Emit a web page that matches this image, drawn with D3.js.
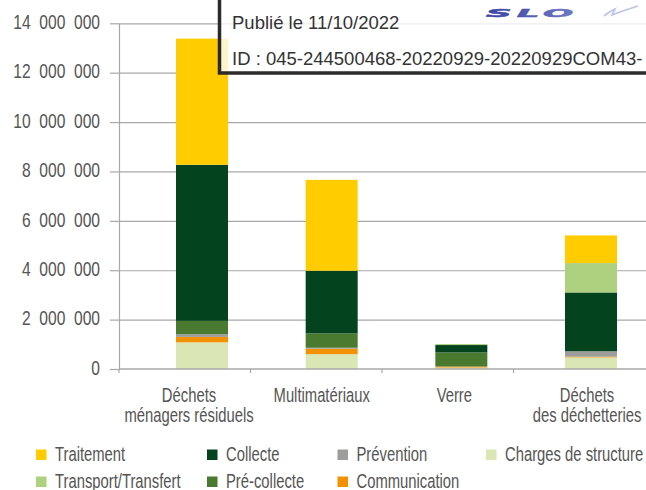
<!DOCTYPE html>
<html><head><meta charset="utf-8">
<script src="https://cdn.jsdelivr.net/npm/d3@7"></script>
<style>
html,body{margin:0;padding:0;background:#fff;}
svg{display:block;}
.lbl{font-family:'Liberation Sans',Arial,sans-serif;fill:#555;}
</style></head>
<body>
<svg id="c" width="646" height="490"></svg>
<script>
const categories = [["Déchets","ménagers résiduels"],["Multimatériaux"],["Verre"],["Déchets","des déchetteries"]];
const catKeys = ["DMR","Multi","Verre","Dechetteries"];
const seriesNames = ["Charges de structure","Communication","Prévention","Pré-collecte","Collecte","Transport/Transfert","Traitement"];
const chargesStructure = [1080000, 600000, 60000, 470000];
const communication   = [220000, 220000, 40000, 30000];
const prevention      = [110000, 40000, 0, 220000];
const preCollecte     = [540000, 580000, 570000, 0];
const collecte        = [6320000, 2540000, 300000, 2380000];
const transport       = [0, 0, 40000, 1190000];
const traitement      = [5110000, 3680000, 0, 1120000];
const yTicks = [0,2000000,4000000,6000000,8000000,10000000,12000000,14000000];
const legendOrder = ["Traitement","Collecte","Prévention","Charges de structure","Transport/Transfert","Pré-collecte","Communication"];
const colors = {"Traitement":"#FFCC00","Collecte":"#03441F","Prévention":"#9D9D9C","Charges de structure":"#DAE6B3",
  "Transport/Transfert":"#AED17F","Pré-collecte":"#4A7A2F","Communication":"#F39200"};

const seriesValues = [chargesStructure,communication,prevention,preCollecte,collecte,transport,traitement];
const rows = catKeys.map((k,i)=>{const o={key:k}; seriesNames.forEach((s,j)=>o[s]=seriesValues[j][i]); return o;});
const stack = d3.stack().keys(seriesNames)(rows);

const svg = d3.select("#c");
const y = d3.scaleLinear().domain([0,14000000]).range([369,23.3]);
const xBand = d3.scaleBand().domain(catKeys).range([119,645]);
const xBar = d3.scalePoint().domain(catKeys).range([202,591]);
const xLbl = d3.scalePoint().domain(catKeys).range([189,587]);
const barW = 52;
const SX = 0.76, SXT = 0.8;
const fmt = v => d3.format(",")(v).replace(/,/g,"\u00a0\u00a0");

// gridlines
svg.append("g").attr("transform","translate(119,0)")
  .call(d3.axisRight(y).tickValues(yTicks.slice(1)).tickSize(527).tickFormat(""))
  .call(g=>{g.select(".domain").remove(); g.selectAll("line").attr("stroke","#A8A8A8").attr("stroke-width",1.2);});

// y axis
svg.append("g").attr("transform","translate(119,0)")
  .call(d3.axisLeft(y).tickValues(yTicks).tickSize(9).tickSizeOuter(0).tickPadding(10).tickFormat(fmt))
  .call(g=>{g.select(".domain").attr("stroke","#A8A8A8").attr("stroke-width",1.2);
    g.selectAll("line").attr("stroke","#A8A8A8").attr("stroke-width",1.2);
    g.selectAll("text").attr("class","lbl").attr("font-size","19.5px").attr("fill","#555").attr("dy","0.27em")
      .attr("x",-19/SXT).attr("transform",`scale(${SXT},1)`);});

// bars
svg.append("g").selectAll("g").data(stack).join("g").attr("fill",d=>colors[d.key])
  .selectAll("rect").data(d=>d).join("rect")
  .attr("x",d=>xBar(d.data.key)-barW/2).attr("width",barW)
  .attr("y",d=>y(d[1])).attr("height",d=>Math.max(0,y(d[0])-y(d[1])));

// x axis baseline + ticks
svg.append("g").attr("transform","translate(0,369)")
  .call(g=>{
    g.append("line").attr("x1",119).attr("x2",646).attr("stroke","#A8A8A8").attr("stroke-width",1.5);
    g.selectAll("line.t").data(catKeys).join("line").attr("class","t")
      .attr("x1",d=>xBand(d)).attr("x2",d=>xBand(d)).attr("y1",0).attr("y2",4)
      .attr("stroke","#A8A8A8").attr("stroke-width",1.2);
  });

// category labels
const lblG = svg.append("g");
catKeys.forEach((k,i)=>{
  categories[i].forEach((line,j)=>lblG.append("text").attr("class","lbl").attr("font-size","19.5px")
    .attr("text-anchor","middle")
    .attr("transform",`translate(${xLbl(k)},${402+j*20}) scale(${SX},1)`).text(line));
});

// legend
const legX = [36,207,337.5,486];
const legY = [449.5,476.5];
const lg = svg.append("g");
legendOrder.forEach((name,i)=>{
  const cx = legX[i%4], ry = legY[Math.floor(i/4)];
  lg.append("rect").attr("x",cx).attr("y",ry).attr("width",10.5).attr("height",10.5).attr("fill",colors[name]);
  lg.append("text").attr("class","lbl").attr("font-size","19.5px")
    .attr("transform",`translate(${cx+19},${ry+11.3}) scale(${SX},1)`).text(name);
});

// stamp overlay
const st = svg.append("g");
st.append("rect").attr("x",219.5).attr("y",-10).attr("width",460).attr("height",83)
  .attr("fill","#fff").attr("fill-opacity",0.8).attr("stroke","#2b2b2b").attr("stroke-width",3.5);
st.append("text").attr("x",232).attr("y",28.5).attr("font-family","'Liberation Sans',Arial,sans-serif")
  .attr("font-size","18.5px").attr("fill","#333").text("Publié le 11/10/2022");
st.append("text").attr("x",232).attr("y",64.5).attr("font-family","'Liberation Sans',Arial,sans-serif")
  .attr("font-size","18.5px").attr("fill","#333").text("ID : 045-244500468-20220929-20220929COM43-");
// logo
const defs = svg.append("defs");
const gr = defs.append("linearGradient").attr("id","lg1").attr("x1","0").attr("x2","1");
gr.append("stop").attr("offset","0").attr("stop-color","#3a45a2");
gr.append("stop").attr("offset","1").attr("stop-color","#6f7cc4");
st.append("text").attr("transform","translate(486,16.7) scale(3.1,0.95)")
  .attr("font-family","'DejaVu Sans',sans-serif").attr("font-weight","bold").attr("font-style","italic")
  .attr("font-size","11.5px").attr("letter-spacing","1.6px").attr("fill","url(#lg1)")
  .attr("stroke","url(#lg1)").attr("stroke-width",0.5).text("SLO");
st.append("path").attr("d","M604,16 Q610,11 615,9 L612,15 Q625,10 638,6").attr("fill","none")
  .attr("stroke","#bfc4e6").attr("stroke-width",1.8);
</script>
</body></html>
